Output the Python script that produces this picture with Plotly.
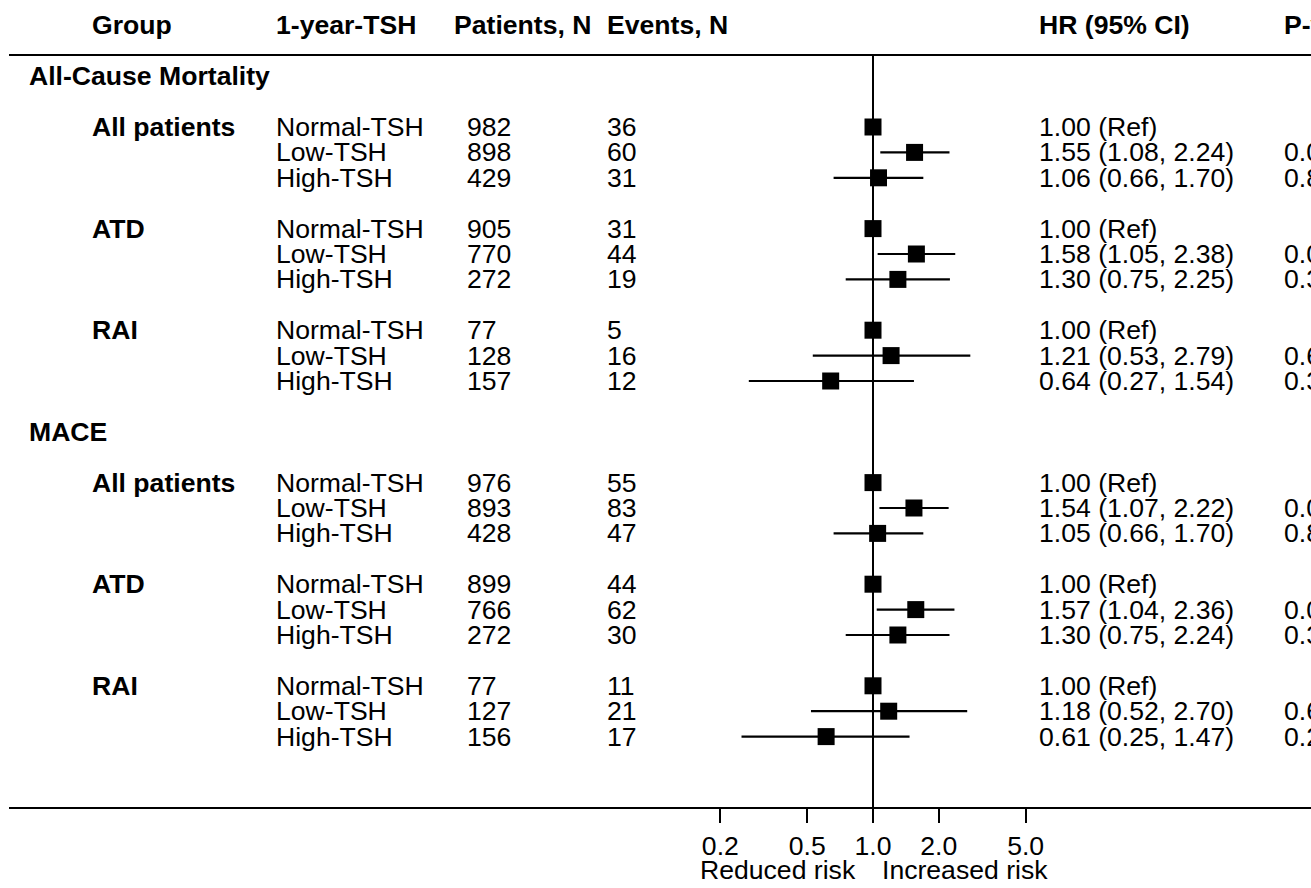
import plotly.graph_objects as go

# ---------------- data ----------------
outcomes = ["All-Cause Mortality", "MACE"]
groups = ["All patients", "ATD", "RAI"]
tsh_levels = ["Normal-TSH", "Low-TSH", "High-TSH"]

acm_patients = [982, 898, 429, 905, 770, 272, 77, 128, 157]
acm_events = [36, 60, 31, 31, 44, 19, 5, 16, 12]
acm_hr = [1.00, 1.55, 1.06, 1.00, 1.58, 1.30, 1.00, 1.21, 0.64]
acm_lo = [1.00, 1.08, 0.66, 1.00, 1.05, 0.75, 1.00, 0.53, 0.27]
acm_hi = [1.00, 2.24, 1.70, 1.00, 2.38, 2.25, 1.00, 2.79, 1.54]
acm_p = ["", "0.02", "0.80", "", "0.03", "0.35", "", "0.65", "0.32"]

mace_patients = [976, 893, 428, 899, 766, 272, 77, 127, 156]
mace_events = [55, 83, 47, 44, 62, 30, 11, 21, 17]
mace_hr = [1.00, 1.54, 1.05, 1.00, 1.57, 1.30, 1.00, 1.18, 0.61]
mace_lo = [1.00, 1.07, 0.66, 1.00, 1.04, 0.75, 1.00, 0.52, 0.25]
mace_hi = [1.00, 2.22, 1.70, 1.00, 2.36, 2.24, 1.00, 2.70, 1.47]
mace_p = ["", "0.02", "0.82", "", "0.03", "0.35", "", "0.69", "0.27"]

headers = ["Group", "1-year-TSH", "Patients, N", "Events, N", "HR (95% CI)", "P-value"]
tick_values = [0.2, 0.5, 1.0, 2.0, 5.0]
tick_labels = ["0.2", "0.5", "1.0", "2.0", "5.0"]
direction_labels = ["Reduced risk", "Increased risk"]

# ---------------- layout constants ----------------
W, H = 1311, 888
FONT = "Liberation Sans, Arial, Helvetica, sans-serif"
FS = 26.6
INK = "#000000"
ROW_PX = 25.4
ROW0_PX = 127.0


def row_of(px):
    return (px - ROW0_PX) / ROW_PX


def xp(px):
    return px / W


col_x = {"group": 90, "tsh": 274, "pat": 465, "ev": 605, "hr": 1037, "p": 1282}
header_x = [90, 274, 452, 605, 1037, 1282]
outcome_x = 27

series = [
    (acm_patients, acm_events, acm_hr, acm_lo, acm_hi, acm_p),
    (mace_patients, mace_events, mace_hr, mace_lo, mace_hi, mace_p),
]

annotations = []


def add_text(txt, x_px, r, bold=False, anchor="left"):
    annotations.append(dict(
        text=("<b>%s</b>" % txt) if bold else txt,
        x=xp(x_px), xref="paper", y=r, yref="y",
        xanchor=anchor, yanchor="middle", showarrow=False,
        font=dict(family=FONT, size=FS, color=INK),
    ))


for hx, h in zip(header_x, headers):
    add_text(h, hx, -4, bold=True)

ys, hrs, los, his = [], [], [], []
for oi, outcome in enumerate(outcomes):
    base = oi * 14
    add_text(outcome, outcome_x, base - 2, bold=True)
    pats, evs, hr, lo, hi, pv = series[oi]
    for gi, g in enumerate(groups):
        for li, lev in enumerate(tsh_levels):
            k = gi * 3 + li
            r = base + gi * 4 + li
            if li == 0:
                add_text(g, col_x["group"], r, bold=True)
            add_text(lev, col_x["tsh"], r)
            add_text(str(pats[k]), col_x["pat"], r)
            add_text(str(evs[k]), col_x["ev"], r)
            if li == 0:
                hr_txt = "%.2f (Ref)" % hr[k]
            else:
                hr_txt = "%.2f (%.2f, %.2f)" % (hr[k], lo[k], hi[k])
            add_text(hr_txt, col_x["hr"], r)
            if pv[k]:
                add_text(pv[k], col_x["p"], r)
            ys.append(r)
            hrs.append(hr[k])
            los.append(lo[k])
            his.append(hi[k])

add_text(direction_labels[0], 858, row_of(870), anchor="right")
add_text(direction_labels[1], 880, row_of(870), anchor="left")

fig = go.Figure()

top_r = row_of(55)
axis_px = 808
axis_r = row_of(axis_px)

# reference line at HR = 1
fig.add_trace(go.Scatter(
    x=[1.0, 1.0], y=[top_r, axis_r], mode="lines",
    line=dict(color=INK, width=2), hoverinfo="skip", showlegend=False,
))

# estimates with confidence intervals
fig.add_trace(go.Scatter(
    x=hrs, y=ys, mode="markers",
    marker=dict(symbol="square", size=17, color=INK),
    error_x=dict(type="data", symmetric=False,
                 array=[h - m for h, m in zip(his, hrs)],
                 arrayminus=[m - l for m, l in zip(hrs, los)],
                 color=INK, thickness=2.2, width=0),
    showlegend=False, cliponaxis=False,
))

px_per_decade = 218.4
x_left = (9 - 873) / px_per_decade
x_right = (W - 873) / px_per_decade

fig.update_layout(
    width=W, height=H,
    margin=dict(l=0, r=0, t=0, b=0, pad=0),
    paper_bgcolor="white", plot_bgcolor="white",
    showlegend=False,
    annotations=annotations,
    shapes=[dict(type="line", xref="paper", x0=xp(9), x1=1, yref="y",
                 y0=top_r, y1=top_r, line=dict(color=INK, width=2))],
    xaxis=dict(
        type="log", range=[x_left, x_right], domain=[xp(9), 1.0],
        anchor="free", position=1 - axis_px / H,
        showline=True, linecolor=INK, linewidth=2,
        ticks="outside", ticklen=14, tickwidth=2, tickcolor=INK,
        tickvals=tick_values, ticktext=tick_labels,
        tickfont=dict(family=FONT, size=FS, color=INK),
        showgrid=False, zeroline=False,
    ),
    yaxis=dict(
        range=[row_of(H), row_of(0)], domain=[0, 1],
        visible=False, showgrid=False, zeroline=False,
    ),
)

fig.write_html(
    "out.html",
    config={"displayModeBar": False, "staticPlot": False},
    post_script="document.body.style.margin='0';document.body.style.overflow='hidden';",
)
